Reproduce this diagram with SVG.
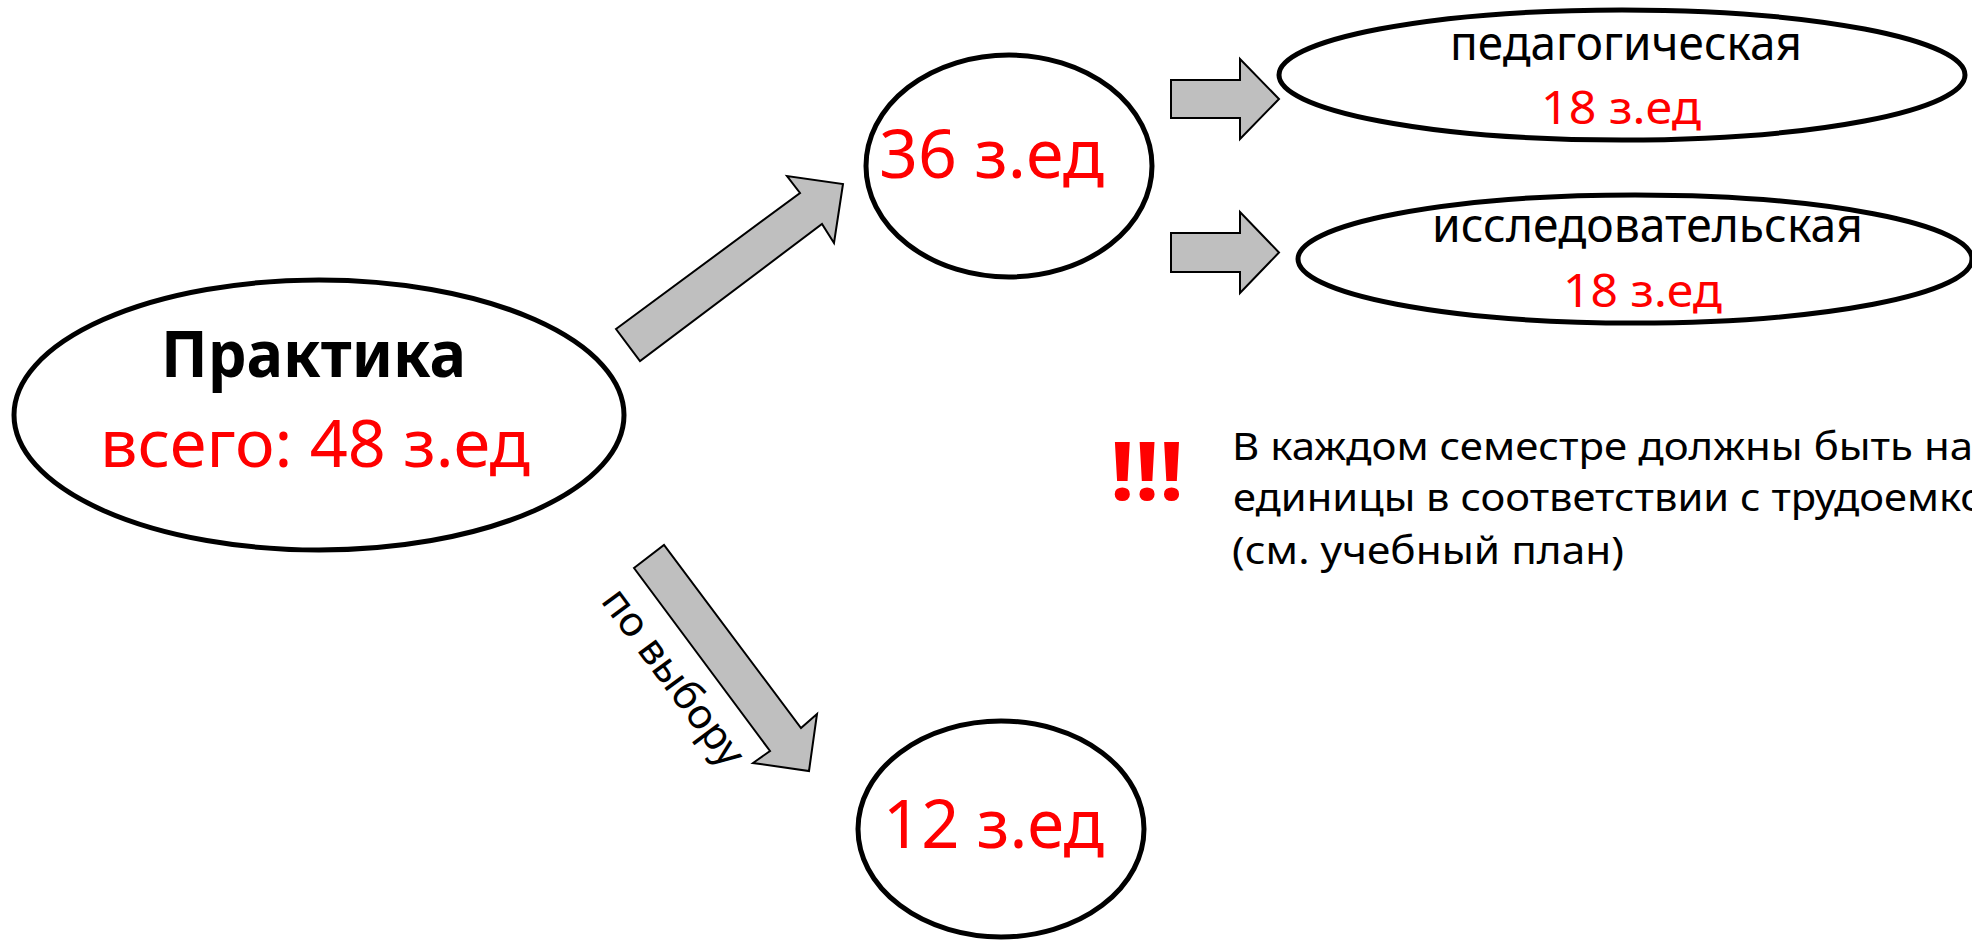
<svg xmlns="http://www.w3.org/2000/svg" width="1972" height="943" viewBox="0 0 1972 943">
<style>
.node { fill: #ffffff; stroke: #000000; stroke-width: 5; }
.arrow { fill: #bfbfbf; stroke: #000000; stroke-width: 2; stroke-linejoin: miter; }
.t { font-family: "Noto Sans", "Open Sans", sans-serif; }
.red { fill: #ff0000; }
.blk { fill: #000000; }
.b { font-weight: bold; }
</style>
<rect x="0" y="0" width="1972" height="943" fill="#ffffff"/>
<g id="connectors">
  <polygon class="arrow" points="616,329 800,193 787,176 843,184 834,243 822,224 640,361"/>
  <polygon class="arrow" points="634,568 664,545 801,728 817,714 809,771 753,763 770,751"/>
  <polygon class="arrow" points="1171,80 1240,80 1240,59 1279,99 1240,139 1240,118 1171,118"/>
  <polygon class="arrow" points="1171,233 1240,233 1240,212 1279,252.5 1240,293 1240,272 1171,272"/>
  <text class="t blk" x="600" y="601" font-size="41" textLength="210" lengthAdjust="spacingAndGlyphs" transform="rotate(53.5 600 601)">по выбору</text>
</g>
<g id="node-practice">
  <ellipse class="node" cx="319" cy="415" rx="305" ry="135"/>
  <text class="t blk b" x="161" y="377" font-size="64" textLength="305" lengthAdjust="spacingAndGlyphs">Практика</text>
  <text class="t red" x="100" y="467" font-size="66" textLength="430" lengthAdjust="spacingAndGlyphs">всего: 48 з.ед</text>
</g>
<g id="node-36">
  <ellipse class="node" cx="1009" cy="166" rx="143" ry="111"/>
  <text class="t red" x="879" y="178" font-size="67" textLength="225" lengthAdjust="spacingAndGlyphs">36 з.ед</text>
</g>
<g id="node-12">
  <ellipse class="node" cx="1001" cy="829" rx="143" ry="108"/>
  <text class="t red" x="883" y="848" font-size="67" textLength="221" lengthAdjust="spacingAndGlyphs">12 з.ед</text>
</g>
<g id="node-ped">
  <ellipse class="node" cx="1622" cy="75" rx="343" ry="65"/>
  <text class="t blk" x="1450" y="60" font-size="48" textLength="352" lengthAdjust="spacingAndGlyphs">педагогическая</text>
  <text class="t red" x="1541" y="124" font-size="45" textLength="160" lengthAdjust="spacingAndGlyphs">18 з.ед</text>
</g>
<g id="node-research">
  <ellipse class="node" cx="1635" cy="259" rx="337" ry="64"/>
  <text class="t blk" x="1432" y="242" font-size="48" textLength="431" lengthAdjust="spacingAndGlyphs">исследовательская</text>
  <text class="t red" x="1563" y="307" font-size="45" textLength="159" lengthAdjust="spacingAndGlyphs">18 з.ед</text>
</g>
<g id="note">
  <text class="t red b" x="1110" y="500" font-size="80" textLength="74" lengthAdjust="spacingAndGlyphs">!!!</text>
  <text class="t blk" x="1232" y="460" font-size="39" textLength="741" lengthAdjust="spacingAndGlyphs">В каждом семестре должны быть на</text>
  <text class="t blk" x="1233" y="511" font-size="39" textLength="752" lengthAdjust="spacingAndGlyphs">единицы в соответствии с трудоемко</text>
  <text class="t blk" x="1232" y="564" font-size="39" textLength="392" lengthAdjust="spacingAndGlyphs">(см. учебный план)</text>
</g>
</svg>
